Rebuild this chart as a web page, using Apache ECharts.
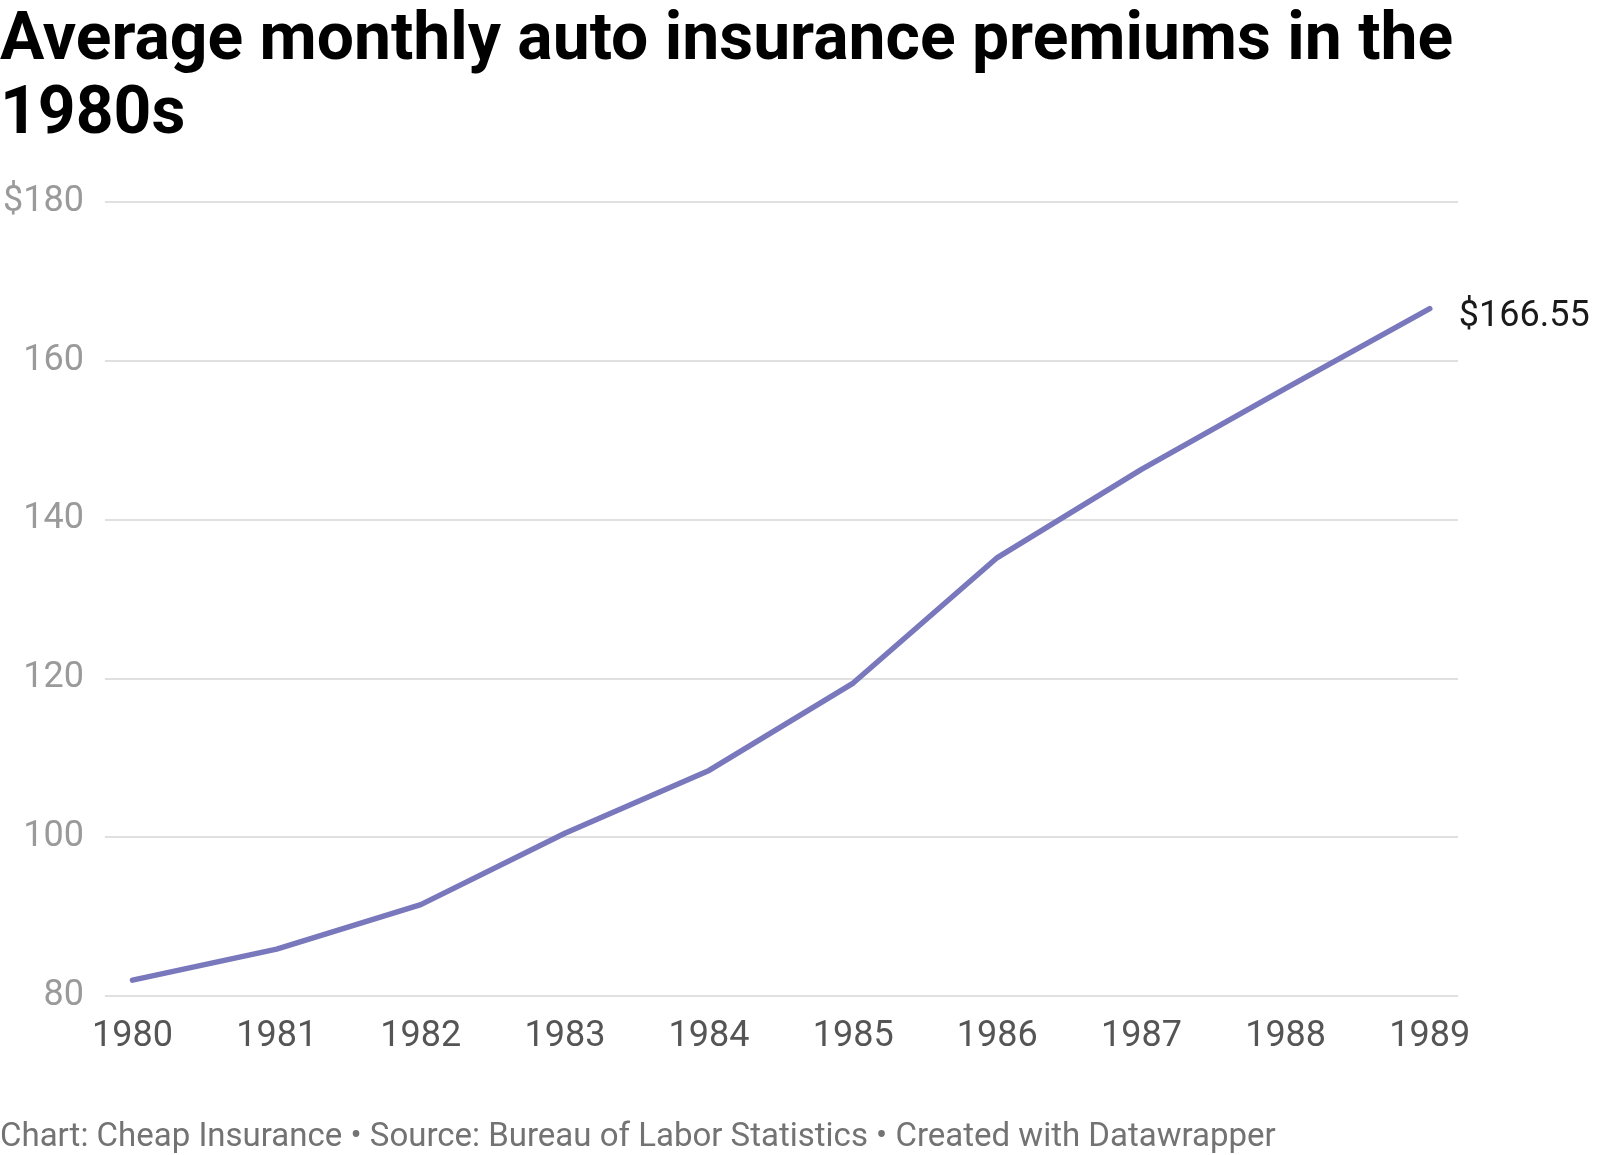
<!DOCTYPE html>
<html>
<head>
<meta charset="utf-8">
<script src="https://cdn.jsdelivr.net/npm/echarts@6/dist/echarts.min.js"></script>
<style>
  html, body { margin: 0; padding: 0; background: #ffffff; }
  #chart { width: 1620px; height: 1155px; }
</style>
</head>
<body>
<div id="chart"></div>
<script>
// Data
var years = [1980, 1981, 1982, 1983, 1984, 1985, 1986, 1987, 1988, 1989];
var premiums = [82.0, 85.9, 91.5, 100.5, 108.4, 119.4, 135.2, 146.3, 156.5, 166.55];
var yTicks = [80, 100, 120, 140, 160, 180];
var titleText = 'Average monthly auto insurance premiums in the\n1980s';
var footerText = 'Chart: Cheap Insurance \u2022 Source: Bureau of Labor Statistics \u2022 Created with Datawrapper';

var points = years.map(function (y, i) { return [y, premiums[i]]; });
var maxTick = yTicks[yTicks.length - 1];

var chart = echarts.init(document.getElementById('chart'), null, { renderer: 'canvas' });
chart.setOption({
  backgroundColor: '#ffffff',
  animation: false,
  title: [{
    text: titleText,
    left: 0,
    top: 5,
    padding: 0,
    textStyle: {
      fontFamily: 'Roboto',
      fontWeight: 'bold',
      fontSize: 66,
      lineHeight: 74,
      color: '#000000'
    }
  }, {
    text: footerText,
    left: 0,
    top: 1121,
    padding: 0,
    textStyle: {
      fontFamily: 'Roboto',
      fontWeight: 'normal',
      fontSize: 33,
      lineHeight: 33,
      color: '#737373'
    }
  }],
  grid: { left: 99, right: 162, top: 201.7, bottom: 159, containLabel: false },
  xAxis: {
    type: 'value',
    min: 1979.8086,
    max: 1989.196,
    axisLine: { show: false },
    axisTick: { show: false },
    splitLine: { show: false },
    axisLabel: {
      customValues: years,
      formatter: function (v) { return String(Math.round(v)); },
      fontFamily: 'Roboto',
      fontSize: 36,
      color: '#555555',
      margin: 23
    }
  },
  yAxis: {
    type: 'value',
    min: yTicks[0],
    max: maxTick,
    interval: 20,
    axisLine: { show: false },
    axisTick: { show: false },
    splitLine: { show: true, lineStyle: { color: '#e0e0e0', width: 2 } },
    axisLabel: {
      formatter: function (v) { return v === maxTick ? '$' + v : String(v); },
      fontFamily: 'Roboto',
      fontSize: 36,
      color: '#9a9a9a',
      margin: 21
    }
  },
  series: [{
    type: 'line',
    data: points,
    symbol: 'none',
    lineStyle: { color: '#7a78bd', width: 5.5, cap: 'round', join: 'round' },
    endLabel: {
      show: true,
      formatter: function (p) { return '$' + p.value[1].toFixed(2); },
      fontFamily: 'Roboto',
      fontSize: 36,
      color: '#1a1a1a',
      distance: 29,
      offset: [0, 8]
    }
  }]
});
</script>
</body>
</html>
